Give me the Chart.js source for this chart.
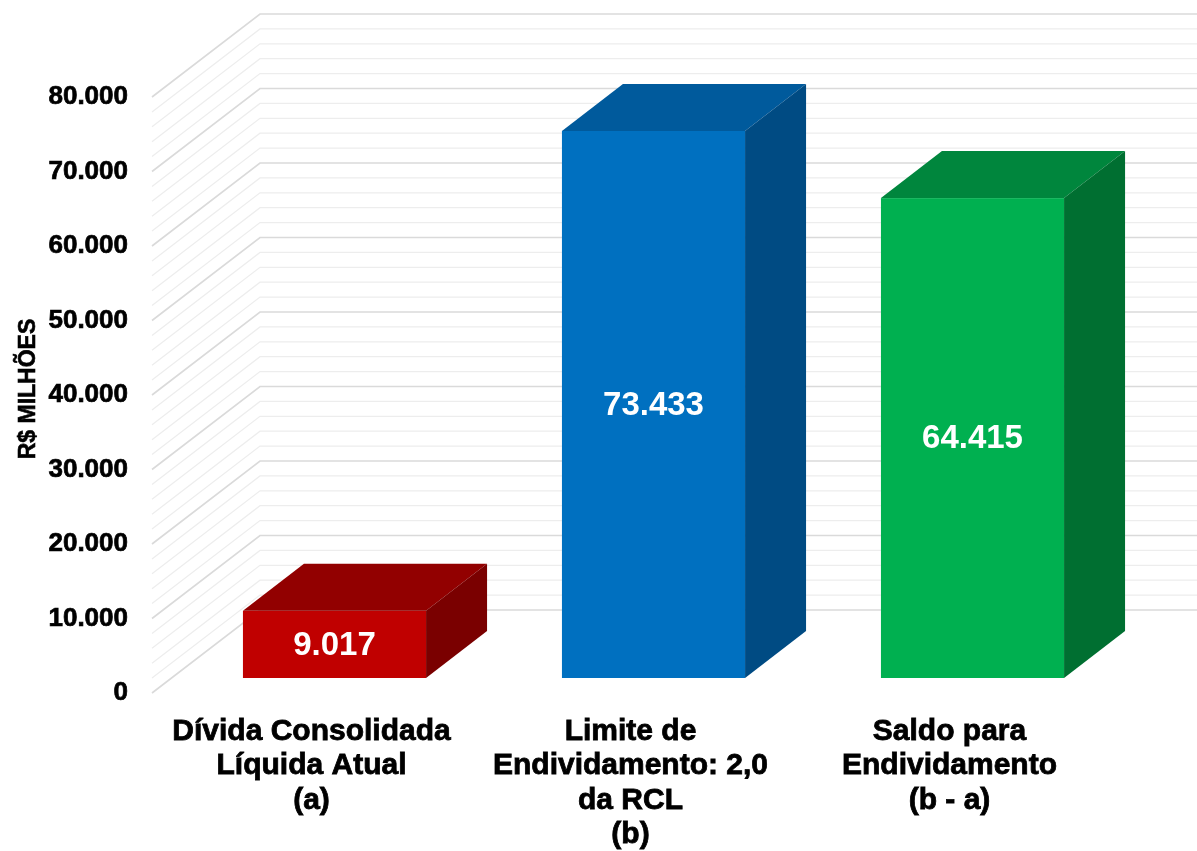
<!DOCTYPE html>
<html>
<head>
<meta charset="utf-8">
<script src="https://cdn.jsdelivr.net/npm/chart.js@4.4.1/dist/chart.umd.min.js"></script>
<style>
  html, body { margin: 0; padding: 0; background: #fff; }
  canvas { display: block; }
</style>
</head>
<body>
<canvas id="grafico" width="1197" height="851"></canvas>
<script>
// dados do grafico
const categorias = [
    ["Dívida Consolidada", "Líquida Atual", "(a)"],
    ["Limite de", "Endividamento: 2,0", "da RCL", "(b)"],
    ["Saldo para", "Endividamento", "(b - a)"]
];
const valores = [9017, 73433, 64415];
const ticksY = [0, 10000, 20000, 30000, 40000, 50000, 60000, 70000, 80000];
const tituloY = "R$ MILHÕES";

const corFrente = ["#c00000", "#0070c0", "#00b050"];
const corTopo = ["#920000", "#005a9c", "#00863d"];
const corLado = ["#7a0000", "#004b83", "#006f31"];

const FONTE = "'Liberation Sans', Arial, sans-serif";
// profundidade da parede e posicao das caixas
const PAREDE = { dx: 108, dy: -83 };
const CAIXA = { ox: 23, oy: -15, dx: 61, dy: -47 };

function milhar(v) {
    return String(v).replace(/\B(?=(\d{3})+(?!\d))/g, ".");
}

const efeito3d = {
    id: "efeito3d",
    beforeDatasetsDraw(chart) {
        const { ctx, chartArea: a, scales: { y } } = chart;
        ctx.save();
        for (let v = 0; v <= 80000; v += 2000) {
            const py = y.getPixelForValue(v);
            const maior = v % 10000 === 0;
            ctx.strokeStyle = maior ? "#dadada" : "#ededed";
            ctx.lineWidth = maior ? 1.6 : 1.2;
            ctx.beginPath();
            ctx.moveTo(a.left, py);
            ctx.lineTo(a.left + PAREDE.dx, py + PAREDE.dy);
            ctx.lineTo(chart.width, py + PAREDE.dy);
            ctx.stroke();
        }
        ctx.restore();
    },
    afterDatasetsDraw(chart) {
        const { ctx } = chart;
        const meta = chart.getDatasetMeta(0);
        ctx.save();
        meta.data.forEach((bar, i) => {
            const L = bar.x - bar.width / 2 + CAIXA.ox;
            const R = bar.x + bar.width / 2 + CAIXA.ox;
            const T = bar.y + CAIXA.oy;
            const B = bar.base + CAIXA.oy;
            // frente
            ctx.fillStyle = corFrente[i];
            ctx.fillRect(L, T, R - L, B - T);
            // topo
            ctx.fillStyle = corTopo[i];
            ctx.beginPath();
            ctx.moveTo(L, T);
            ctx.lineTo(R, T);
            ctx.lineTo(R + CAIXA.dx, T + CAIXA.dy);
            ctx.lineTo(L + CAIXA.dx, T + CAIXA.dy);
            ctx.closePath();
            ctx.fill();
            // lado
            ctx.fillStyle = corLado[i];
            ctx.beginPath();
            ctx.moveTo(R, T);
            ctx.lineTo(R + CAIXA.dx, T + CAIXA.dy);
            ctx.lineTo(R + CAIXA.dx, B + CAIXA.dy);
            ctx.lineTo(R, B);
            ctx.closePath();
            ctx.fill();
            // rotulo
            ctx.fillStyle = "#ffffff";
            ctx.font = "bold 33px " + FONTE;
            ctx.textAlign = "center";
            ctx.textBaseline = "middle";
            ctx.fillText(milhar(valores[i]), (L + R) / 2, (T + B) / 2 + 1);
        });
        ctx.restore();
    },
    afterDraw(chart) {
        // titulo do eixo y, girado
        const { ctx, scales: { y } } = chart;
        ctx.save();
        ctx.translate(29, (y.top + y.bottom) / 2 - 6);
        ctx.rotate(-Math.PI / 2);
        ctx.font = "bold 23px " + FONTE;
        ctx.textAlign = "center";
        ctx.textBaseline = "middle";
        ctx.fillStyle = "#000";
        ctx.strokeStyle = "#000";
        ctx.lineWidth = 0.6;
        ctx.fillText(tituloY, 0, 0);
        ctx.strokeText(tituloY, 0, 0);
        ctx.restore();
    }
};

new Chart(document.getElementById("grafico"), {
    type: "bar",
    data: {
        labels: categorias,
        datasets: [{
            data: valores,
            backgroundColor: "rgba(0,0,0,0)",
            borderWidth: 0,
            barPercentage: 0.574,
            categoryPercentage: 1
        }]
    },
    options: {
        responsive: false,
        animation: false,
        devicePixelRatio: 1,
        layout: { padding: { top: 97, right: 88, left: 0, bottom: 0 } },
        plugins: { legend: { display: false }, tooltip: { enabled: false } },
        scales: {
            y: {
                min: 0,
                max: 80000,
                afterBuildTicks: (s) => { s.ticks = ticksY.map(v => ({ value: v })); },
                afterFit: (s) => { s.width = 152; },
                grid: { display: false, drawTicks: false },
                border: { display: false },
                ticks: {
                    color: "#000",
                    padding: 24,
                    textStrokeColor: "#000",
                    textStrokeWidth: 0.7,
                    font: { family: FONTE, size: 26, weight: "bold" },
                    callback: (v) => milhar(v)
                }
            },
            x: {
                afterFit: (s) => { s.height = 158; },
                grid: { display: false, drawTicks: false },
                border: { display: false },
                ticks: {
                    color: "#000",
                    padding: 21,
                    maxRotation: 0,
                    autoSkip: false,
                    textStrokeColor: "#000",
                    textStrokeWidth: 0.8,
                    font: { family: FONTE, size: 30, weight: "bold", lineHeight: 1.15 }
                }
            }
        }
    },
    plugins: [efeito3d]
});
</script>
</body>
</html>
